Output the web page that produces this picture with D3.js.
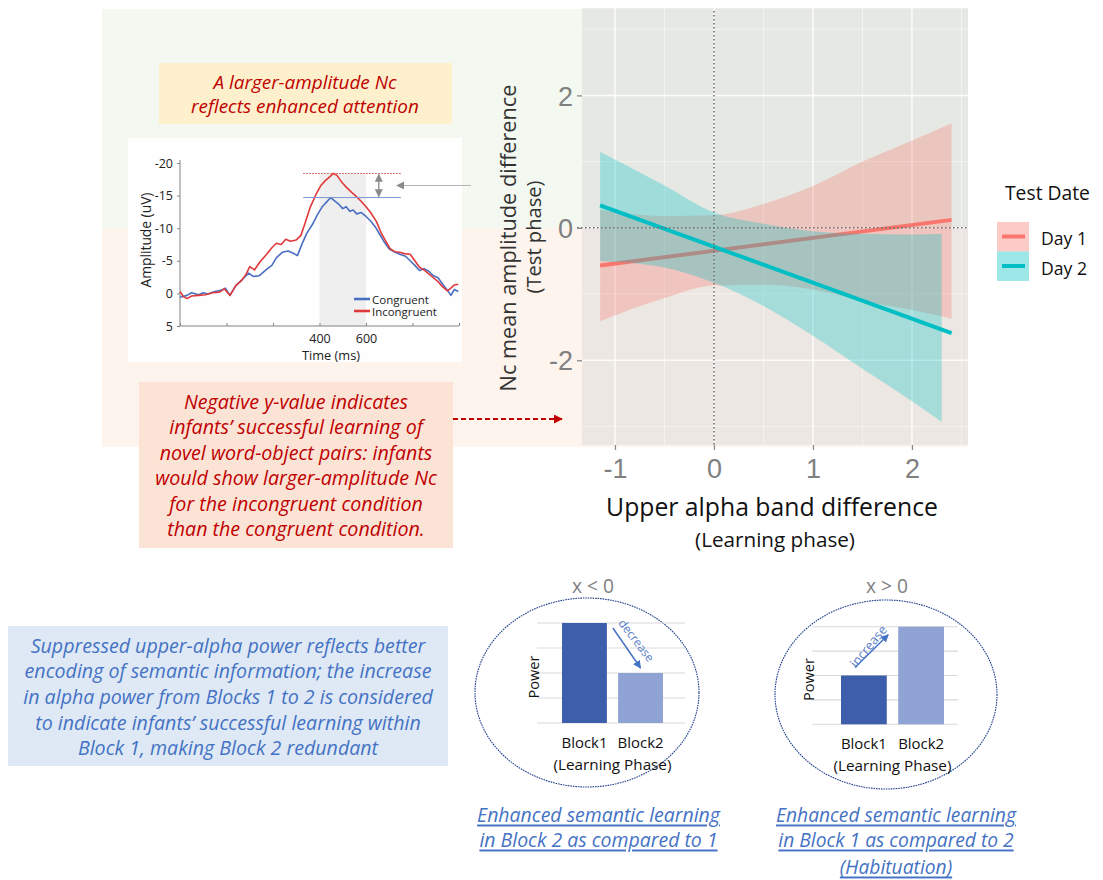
<!DOCTYPE html>
<html>
<head>
<meta charset="utf-8">
<script src="https://cdn.jsdelivr.net/npm/d3@7"></script>
<style>
  html, body { margin: 0; padding: 0; background: #fff; }
  svg { display: block; }
</style>
</head>
<body>
<svg id="fig" width="1103" height="880"></svg>
<script>
// ---------------- data ----------------
// Regression fits of Nc amplitude difference on upper-alpha difference
const fitX      = [-1.15, -0.5, 0, 0.5, 1.0, 1.5, 2.0, 2.4];
const day1Lower = [-1.41, -1.06, -0.87, -0.86, -0.93, -1.10, -1.24, -1.37];
const day1Upper = [ 0.27,  0.18,  0.19,  0.36,  0.63,  1.00,  1.32,  1.58];
const ribbon2X  = [-1.15, -0.5, 0, 0.5, 1.0, 1.5, 2.0, 2.3];
const day2Lower = [-0.50, -0.60, -0.83, -1.18, -1.63, -2.13, -2.62, -2.93];
const day2Upper = [ 1.15,  0.64,  0.23,  0.06, -0.05, -0.09, -0.10, -0.09];
const lineX     = [-1.15, 2.4];
const day1Fit   = [-0.57, 0.12];
const day2Fit   = [ 0.34, -1.59];
const testDates = ["Day 1", "Day 2"];
const xTicks = [-1, 0, 1, 2];
const yTicks = [-2, 0, 2];

// Grand-average ERP (time in ms, amplitude in uV)
const congruentERP = [[-200,0.6],[-170,0.3],[-150,-0.1],[-120,0.2],[-100,-0.1],[-80,0.1],[-50,-0.3],[-20,-0.5],[-5,-0.8],[15,0.3],[40,-1.2],[70,-2.2],[95,-3.1],[115,-2.6],[140,-2.7],[170,-3.6],[195,-4.3],[215,-5.5],[240,-6.3],[265,-6.5],[285,-6.2],[305,-5.8],[325,-7.6],[345,-9.2],[370,-10.6],[390,-12.0],[410,-13.2],[430,-14.0],[448,-14.7],[465,-14.2],[485,-13.6],[500,-13.0],[515,-13.3],[530,-12.6],[545,-12.8],[560,-12.2],[580,-12.4],[600,-11.8],[620,-11.1],[640,-10.2],[660,-9.0],[680,-7.8],[700,-6.8],[720,-6.4],[745,-6.0],[770,-5.7],[790,-5.0],[810,-4.3],[830,-3.5],[850,-3.8],[870,-3.4],[890,-2.7],[910,-2.4],[930,-1.4],[950,-0.5],[965,0.3],[980,-0.6],[997,-0.3]];
const incongruentERP = [[-200,-0.3],[-185,0.5],[-170,0.8],[-150,0.4],[-120,0.3],[-90,0.2],[-60,-0.1],[-30,-0.2],[-10,-0.7],[15,0.3],[40,-1.2],[65,-2.0],[85,-3.0],[100,-4.1],[120,-3.6],[145,-4.9],[170,-5.9],[195,-7.0],[215,-7.7],[235,-7.5],[255,-8.3],[275,-8.0],[300,-8.2],[320,-8.9],[340,-11.0],[360,-13.2],[385,-15.2],[405,-16.5],[425,-17.3],[445,-17.9],[460,-18.4],[475,-18.1],[495,-17.1],[515,-16.3],[535,-15.6],[560,-14.8],[580,-14.1],[600,-13.3],[620,-12.4],[645,-11.0],[665,-9.3],[685,-8.0],[705,-6.8],[725,-6.4],[745,-6.3],[765,-6.1],[790,-6.0],[810,-5.0],[830,-4.0],[850,-3.6],[870,-3.0],[890,-2.4],[910,-1.8],[930,-1.0],[950,-0.4],[965,-0.8],[980,-1.3],[997,-1.4]];
const erpTimeTicks = [-200, 0, 200, 400, 600, 800, 1000];
const erpTimeLabels = [400, 600];
const erpAmpTicks = [-20, -15, -10, -5, 0, 5];
const erpConditions = ["Congruent", "Incongruent"];

// Schematic upper-alpha power per block
const blocks = ["Block1", "Block2"];
const powerDecrease = [4, 2];
const powerIncrease = [2, 4];
const powerGrid = [0, 1, 2, 3, 4];

// ---------------- helpers ----------------
const SANS = "'Open Sans', 'Noto Sans', sans-serif";
const ARIAL = "'Liberation Sans', Arial, sans-serif";
const svg = d3.select("#fig");

// font size that makes a text element span the given width
function fitSize(sel, width) {
  const len = sel.node().getComputedTextLength();
  const fs = parseFloat(sel.attr("font-size"));
  return fs * width / len;
}

// multi-line centred text; the reference line sets the common font size
function textBlock(parent, lines, cx, ys, opt) {
  const g = parent.append("g");
  const items = lines.map((s, i) => g.append("text")
    .attr("x", cx).attr("y", ys[i])
    .attr("text-anchor", opt.anchor || "middle")
    .attr("dominant-baseline", "central")
    .attr("font-family", opt.family || SANS)
    .attr("font-style", opt.italic ? "italic" : "normal")
    .attr("font-size", 20)
    .attr("fill", opt.color || "#000")
    .style("text-decoration", opt.underline ? "underline" : "none")
    .text(s));
  const fs = fitSize(items[opt.ref || 0], opt.width);
  items.forEach(t => t.attr("font-size", fs));
  return g;
}

function label(parent, s, x, y, width, opt = {}) {
  const t = parent.append("text")
    .attr("x", 0).attr("y", 0)
    .attr("transform", `translate(${x},${y}) rotate(${opt.rotate || 0})`)
    .attr("text-anchor", opt.anchor || "middle")
    .attr("dominant-baseline", "central")
    .attr("font-family", opt.family || SANS)
    .attr("font-style", opt.italic ? "italic" : "normal")
    .attr("font-size", 20)
    .attr("fill", opt.color || "#000")
    .text(s);
  t.attr("font-size", fitSize(t, width));
  return t;
}

const defs = svg.append("defs");
function arrowMarker(id, color, size) {
  defs.append("marker").attr("id", id)
    .attr("viewBox", "0 0 10 10").attr("refX", 9).attr("refY", 5)
    .attr("markerWidth", size).attr("markerHeight", size)
    .attr("markerUnits", "userSpaceOnUse")
    .attr("orient", "auto-start-reverse")
    .append("path").attr("d", "M0,0 L10,5 L0,10 z").attr("fill", color);
}
arrowMarker("arrRed", "#c00000", 9);
arrowMarker("arrGray", "#8a8a8a", 8);
arrowMarker("arrBlue", "#4472c4", 8);

// ---------------- regression panel ----------------
const px = d3.scaleLinear().domain([-1.333, 2.566]).range([582, 968]);
const py = d3.scaleLinear().domain([-3.28, 3.32]).range([445, 8]);
const dayColor = d3.scaleOrdinal().domain(testDates).range(["#F8766D", "#00BFC4"]);

// region shading: positive / negative Nc difference
const bandLeft = 102;
svg.append("rect").attr("x", bandLeft).attr("y", py.range()[1] + 1)
  .attr("width", px.range()[1] - bandLeft).attr("height", py(0) - py.range()[1] - 1)
  .attr("fill", "#f3f8f0");
svg.append("rect").attr("x", bandLeft).attr("y", py(0))
  .attr("width", px.range()[1] - bandLeft).attr("height", 447 - py(0))
  .attr("fill", "#fdf4ee");

const panel = svg.append("g");
panel.append("rect")
  .attr("x", px.range()[0]).attr("y", py.range()[1])
  .attr("width", px.range()[1] - px.range()[0]).attr("height", py.range()[0] - py.range()[1])
  .attr("fill", "#d6d6d2").attr("fill-opacity", 0.45);

// grid
const xMinor = [-0.5, 0.5, 1.5, 2.5], yMinor = [-3, -1, 1, 3];
panel.selectAll(".gxm").data(xMinor).join("line")
  .attr("x1", d => px(d)).attr("x2", d => px(d))
  .attr("y1", py.range()[1]).attr("y2", py.range()[0])
  .attr("stroke", "#fff").attr("stroke-opacity", 0.6).attr("stroke-width", 0.8);
panel.selectAll(".gym").data(yMinor).join("line")
  .attr("y1", d => py(d)).attr("y2", d => py(d))
  .attr("x1", px.range()[0]).attr("x2", px.range()[1])
  .attr("stroke", "#fff").attr("stroke-opacity", 0.6).attr("stroke-width", 0.8);
panel.selectAll(".gx").data(xTicks).join("line")
  .attr("x1", d => px(d)).attr("x2", d => px(d))
  .attr("y1", py.range()[1]).attr("y2", py.range()[0])
  .attr("stroke", "#fff").attr("stroke-opacity", 0.85).attr("stroke-width", 1.5);
panel.selectAll(".gy").data(yTicks).join("line")
  .attr("y1", d => py(d)).attr("y2", d => py(d))
  .attr("x1", px.range()[0]).attr("x2", px.range()[1])
  .attr("stroke", "#fff").attr("stroke-opacity", 0.85).attr("stroke-width", 1.5);

// ribbons and fitted lines (drawn per group, Day 1 first)
const area = d3.area().x(d => px(d.x)).y0(d => py(d.lo)).y1(d => py(d.hi)).curve(d3.curveMonotoneX);
const line = d3.line().x(d => px(d.x)).y(d => py(d.y));
const groups = [
  { key: "Day 1", rib: fitX.map((x, i) => ({ x, lo: day1Lower[i], hi: day1Upper[i] })),
    fit: lineX.map((x, i) => ({ x, y: day1Fit[i] })) },
  { key: "Day 2", rib: ribbon2X.map((x, i) => ({ x, lo: day2Lower[i], hi: day2Upper[i] })),
    fit: lineX.map((x, i) => ({ x, y: day2Fit[i] })) }
];
groups.forEach(gr => {
  panel.append("path").attr("d", area(gr.rib))
    .attr("fill", dayColor(gr.key)).attr("fill-opacity", 0.3);
  panel.append("path").attr("d", line(gr.fit))
    .attr("fill", "none").attr("stroke", dayColor(gr.key)).attr("stroke-width", 4);
});

// reference lines at zero
panel.append("line")
  .attr("x1", px(0)).attr("x2", px(0)).attr("y1", py.range()[1] + 3).attr("y2", py.range()[0])
  .attr("stroke", "#6e6e6e").attr("stroke-width", 1.6).attr("stroke-dasharray", "1.6,2.4");
panel.append("line")
  .attr("x1", px.range()[0] - 5).attr("x2", px.range()[1]).attr("y1", py(0)).attr("y2", py(0))
  .attr("stroke", "#6e6e6e").attr("stroke-width", 1.6).attr("stroke-dasharray", "1.6,2.4");

// axes
const yAxis = svg.append("g").attr("transform", `translate(${px.range()[0]},0)`)
  .call(d3.axisLeft(py).tickValues(yTicks).tickSize(5).tickPadding(4).tickFormat(d => String(d)));
const xAxis = svg.append("g").attr("transform", `translate(0,${py.range()[0]})`)
  .call(d3.axisBottom(px).tickValues(xTicks).tickSize(5).tickPadding(4).tickFormat(d => String(d)));
[yAxis, xAxis].forEach(a => {
  a.select(".domain").remove();
  a.selectAll(".tick line").attr("stroke", "#8a8a8a").attr("stroke-width", 1.3);
  a.selectAll(".tick text").attr("fill", "#808080").attr("font-family", ARIAL).attr("font-size", 27);
});
yAxis.selectAll(".tick text").attr("dy", "0.36em");
xAxis.selectAll(".tick text").attr("dy", "0.9em");

// axis titles
label(svg, "Nc mean amplitude difference", 507, 238, 307, { rotate: -90, color: "#333" });
label(svg, "(Test phase)", 533, 237, 113, { rotate: -90, color: "#333" });
label(svg, "Upper alpha band difference", 772, 506, 332, { color: "#111" });
label(svg, "(Learning phase)", 775, 539, 160, { color: "#111" });

// legend
const leg = svg.append("g");
label(leg, "Test Date", 1005, 192, 85, { anchor: "start", color: "#111" });
testDates.forEach((d, i) => {
  const y0 = 222 + i * 29.5;
  leg.append("rect").attr("x", 997).attr("y", y0).attr("width", 32).attr("height", 29.5)
    .attr("fill", dayColor(d)).attr("fill-opacity", 0.38);
  leg.append("line").attr("x1", 1002).attr("x2", 1025).attr("y1", y0 + 14.5).attr("y2", y0 + 14.5)
    .attr("stroke", dayColor(d)).attr("stroke-width", 4);
  label(leg, d, 1041, y0 + 16, 46, { anchor: "start", color: "#111" });
});

// ---------------- ERP inset ----------------
const erp = svg.append("g");
erp.append("rect").attr("x", 128).attr("y", 138).attr("width", 334).attr("height", 224).attr("fill", "#fefefe");
const ex = d3.scaleLinear().domain([-200, 1000]).range([180, 459]);
const ey = d3.scaleLinear().domain([-20, 5]).range([163, 326]);
const erpColor = d3.scaleOrdinal().domain(erpConditions).range(["#4a6fc1", "#e0393b"]);
const peakInc = d3.min(incongruentERP, d => d[1]);
const peakCon = d3.min(congruentERP, d => d[1]);

erp.append("rect").attr("x", ex(400)).attr("y", ey(peakInc))
  .attr("width", ex(600) - ex(400)).attr("height", ey(5) - ey(peakInc))
  .attr("fill", "#ebebeb").attr("fill-opacity", 0.8);

const eyAxis = erp.append("g").attr("transform", `translate(${ex(-200)},0)`)
  .call(d3.axisLeft(ey).tickValues(erpAmpTicks).tickSize(3).tickPadding(4).tickFormat(d => String(d)));
const exAxis = erp.append("g").attr("transform", `translate(0,${ey(5)})`)
  .call(d3.axisBottom(ex).tickValues(erpTimeTicks).tickSize(-3).tickPadding(6)
    .tickFormat(d => erpTimeLabels.includes(d) ? String(d) : ""));
[eyAxis, exAxis].forEach(a => {
  a.select(".domain").attr("stroke", "#777").attr("stroke-width", 0.9)
    .attr("d", a === eyAxis ? `M0,${ey(-20) - 3}V${ey(5)}` : `M${ex(-200)},0H${ex(1000)}`);
  a.selectAll(".tick line").attr("stroke", "#888");
  a.selectAll(".tick text").attr("fill", "#222").attr("font-family", SANS).attr("font-size", 12.5);
});
exAxis.selectAll(".tick text").attr("dy", "0.9em");

const erpLine = d3.line().x(d => ex(d[0])).y(d => ey(d[1]));
erp.append("path").attr("d", erpLine(congruentERP)).attr("fill", "none")
  .attr("stroke", erpColor("Congruent")).attr("stroke-width", 1.6).attr("stroke-linejoin", "round");
erp.append("path").attr("d", erpLine(incongruentERP)).attr("fill", "none")
  .attr("stroke", erpColor("Incongruent")).attr("stroke-width", 1.6).attr("stroke-linejoin", "round");

// peak reference lines and difference arrow
erp.append("line").attr("x1", ex(330)).attr("x2", ex(750)).attr("y1", ey(peakInc)).attr("y2", ey(peakInc))
  .attr("stroke", "#e04a4a").attr("stroke-width", 1.1).attr("stroke-dasharray", "1.5,1.5");
erp.append("line").attr("x1", ex(330)).attr("x2", ex(750)).attr("y1", ey(peakCon)).attr("y2", ey(peakCon))
  .attr("stroke", "#7d97d4").attr("stroke-width", 1);
erp.append("line").attr("x1", ex(655)).attr("x2", ex(655)).attr("y1", ey(peakInc) + 1).attr("y2", ey(peakCon) - 1)
  .attr("stroke", "#8a8a8a").attr("stroke-width", 1.3)
  .attr("marker-start", "url(#arrGray)").attr("marker-end", "url(#arrGray)");
const midDiff = (peakInc + peakCon) / 2;
svg.append("line").attr("x1", 471).attr("x2", ex(733)).attr("y1", ey(midDiff)).attr("y2", ey(midDiff))
  .attr("stroke", "#b5b5b5").attr("stroke-width", 1).attr("marker-end", "url(#arrGray)");

// inset legend and titles
erpConditions.forEach((c, i) => {
  const y = 299 + i * 12;
  erp.append("line").attr("x1", 354).attr("x2", 370).attr("y1", y).attr("y2", y)
    .attr("stroke", erpColor(c)).attr("stroke-width", 2.6);
});
label(erp, "Congruent", 372, 299, 57, { anchor: "start", color: "#222" });
label(erp, "Incongruent", 372, 311, 65, { anchor: "start", color: "#222" });
label(erp, "Amplitude (uV)", 145, 240, 95, { rotate: -90, color: "#222" });
label(erp, "Time (ms)", 331, 355, 58, { color: "#222" });

// ---------------- annotation boxes ----------------
svg.append("rect").attr("x", 159).attr("y", 63).attr("width", 293).attr("height", 61).attr("fill", "#fef0cc");
textBlock(svg, ["A larger-amplitude Nc", "reflects enhanced attention"], 305, [81.5, 106],
  { italic: true, color: "#c00000", width: 228, ref: 1 });

svg.append("rect").attr("x", 139).attr("y", 382).attr("width", 314).attr("height", 166).attr("fill", "#fbe4d6");
textBlock(svg, [
  "Negative y-value indicates",
  "infants\u2019 successful learning of",
  "novel word-object pairs: infants",
  "would show larger-amplitude Nc",
  "for the incongruent condition",
  "than the congruent condition."
], 296, [401, 426, 452, 477, 503, 528], { italic: true, color: "#c00000", width: 282, ref: 3 });
svg.append("line").attr("x1", 453).attr("x2", 562).attr("y1", 419).attr("y2", 419)
  .attr("stroke", "#c00000").attr("stroke-width", 2).attr("stroke-dasharray", "5,3")
  .attr("marker-end", "url(#arrRed)");

svg.append("rect").attr("x", 8).attr("y", 626).attr("width", 440).attr("height", 140).attr("fill", "#dee9f5");
textBlock(svg, [
  "Suppressed upper-alpha power reflects better",
  "encoding of semantic information; the increase",
  "in alpha power from Blocks 1 to 2 is considered",
  "to indicate infants\u2019 successful learning within",
  "Block 1, making Block 2 redundant"
], 228, [645, 670, 696, 722, 747], { italic: true, color: "#4472c4", width: 395, ref: 0 });

// ---------------- block power schematics ----------------
const barColor = d3.scaleOrdinal().domain(blocks).range(["#3d5eaa", "#8fa3d4"]);
function powerPanel(cfg) {
  const g = svg.append("g");
  g.append("ellipse").attr("cx", cfg.cx).attr("cy", cfg.cy).attr("rx", cfg.rx).attr("ry", cfg.ry)
    .attr("fill", "#fff").attr("stroke", "#1f3f8c").attr("stroke-width", 1.1).attr("stroke-dasharray", "1.6,0.9");
  label(g, cfg.title, cfg.titleX, 585, 42, { color: "#7f7f7f" });
  const bx = d3.scaleBand().domain(blocks).range(cfg.barRange).paddingInner(0.2).paddingOuter(0);
  const by = d3.scaleLinear().domain([0, 4]).range(cfg.yRange);
  g.selectAll(".grid").data(powerGrid).join("line")
    .attr("x1", cfg.gridRange[0]).attr("x2", cfg.gridRange[1])
    .attr("y1", d => by(d)).attr("y2", d => by(d))
    .attr("stroke", "#d9d9d9").attr("stroke-width", 1.1);
  g.selectAll(".bar").data(blocks).join("rect")
    .attr("x", d => bx(d)).attr("width", bx.bandwidth())
    .attr("y", (d, i) => by(cfg.values[i])).attr("height", (d, i) => by(0) - by(cfg.values[i]))
    .attr("fill", d => barColor(d));
  blocks.forEach(b => label(g, b, bx(b) + bx.bandwidth() / 2, by(0) + 19, 46, { color: "#111" }));
  label(g, "(Learning Phase)", (bx("Block1") + bx("Block2") + bx.bandwidth()) / 2, by(0) + 41, 118, { color: "#111" });
  label(g, "Power", cfg.gridRange[0] - 4, by(2) + 4, 43, { rotate: -90, color: "#111" });
  const a = cfg.arrow(bx, by);
  g.append("line").attr("x1", a[0]).attr("y1", a[1]).attr("x2", a[2]).attr("y2", a[3])
    .attr("stroke", "#4472c4").attr("stroke-width", 1.5).attr("marker-end", "url(#arrBlue)");
  const ang = Math.atan2(a[3] - a[1], a[2] - a[0]) * 180 / Math.PI;
  label(g, cfg.word, cfg.wordAt[0], cfg.wordAt[1], 50, { rotate: ang + cfg.wordTilt, color: "#5b7fc8" });
  return g;
}
powerPanel({
  cx: 587, cy: 692.5, rx: 112, ry: 94.5, title: "x < 0", titleX: 593, values: powerDecrease,
  barRange: [562, 663], yRange: [723, 623], gridRange: [537, 685], word: "decrease",
  arrow: (bx, by) => [bx("Block1") + bx.bandwidth() + 6, by(4) + 5, bx("Block2") + bx.bandwidth() / 2, by(2) - 5],
  wordAt: [637, 640], wordTilt: -3
});
powerPanel({
  cx: 886, cy: 694.5, rx: 111, ry: 94.5, title: "x > 0", titleX: 887, values: powerIncrease,
  barRange: [841, 944], yRange: [724.3, 626.7], gridRange: [812, 958], word: "increase",
  arrow: (bx, by) => [bx("Block1") + 14, by(2) - 8, bx("Block2") - 10, by(4) + 8],
  wordAt: [868, 646], wordTilt: -6
});

// ---------------- outcome captions ----------------
textBlock(svg, ["Enhanced semantic learning", "in Block 2 as compared to 1"], 598.5, [814, 839],
  { italic: true, underline: true, color: "#4472c4", width: 243, ref: 0 });
textBlock(svg, ["Enhanced semantic learning", "in Block 1 as compared to 2", "(Habituation)"], 896, [814, 839, 866],
  { italic: true, underline: true, color: "#4472c4", width: 240, ref: 0 });
</script>
</body>
</html>
